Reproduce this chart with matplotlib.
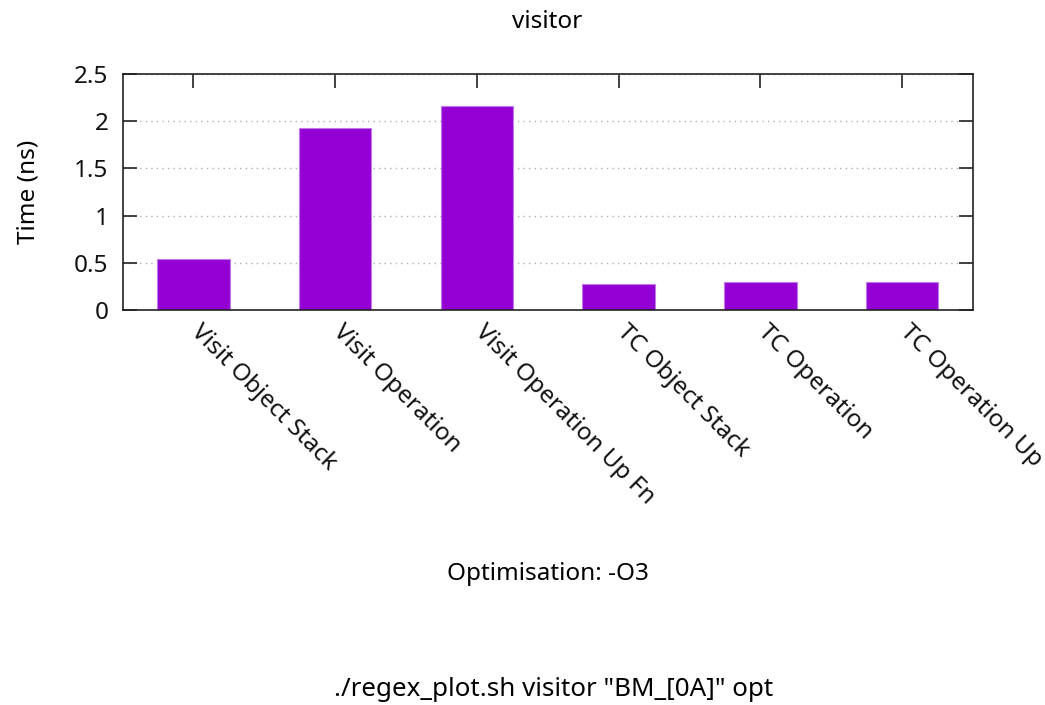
import matplotlib
matplotlib.use("Agg")
import matplotlib.pyplot as plt
from matplotlib.transforms import ScaledTranslation

plt.rcParams['font.family'] = ['Noto Sans', 'DejaVu Sans']

# benchmark results (ns per call)
benchmarks = ["Visit Object Stack", "Visit Operation", "Visit Operation Up Fn",
              "TC Object Stack", "TC Operation", "TC Operation Up"]
times_ns = [0.537, 1.926, 2.159, 0.272, 0.293, 0.293]
y_ticks = [0, 0.5, 1, 1.5, 2, 2.5]
y_tick_labels = ["0", "0.5", "1", "1.5", "2", "2.5"]

FS = 17.5
W, H, DPI = 1045, 705, 100
fig = plt.figure(figsize=(W / DPI, H / DPI), dpi=DPI)
ax = fig.add_axes([122.5 / W, 1 - 310 / H, (973 - 122.5) / W, (310 - 74) / H])

x = list(range(len(benchmarks)))
ax.bar(x, times_ns, width=0.51, color="#9400D3", edgecolor="#c07ae6",
       linewidth=0.8, zorder=2)

ax.set_xlim(-0.5, len(benchmarks) - 0.5)
ax.set_ylim(0, 2.5)
ax.set_yticks(y_ticks)
ax.set_yticklabels(y_tick_labels, fontsize=FS)
ax.set_xticks(x)
ax.set_xticklabels([])

# rotated category labels hanging below each bar
shift = ScaledTranslation(10 / DPI, -10 / DPI, fig.dpi_scale_trans)
for xi, name in zip(x, benchmarks):
    ax.text(xi, 0, name, rotation=-45, ha="left", va="top",
            rotation_mode="anchor", fontsize=FS, color="#111111",
            transform=ax.get_xaxis_transform() + shift)

for side in ax.spines.values():
    side.set_linewidth(1.2)
    side.set_color("#222222")

ax.tick_params(axis="y", direction="in", length=10, width=1.2,
               left=True, right=True, pad=10, colors="#222222")
ax.tick_params(axis="x", direction="in", length=10, width=1.2,
               bottom=False, top=True, colors="#222222")
ax.tick_params(axis="both", labelcolor="#111111")

ax.grid(axis="y", linestyle=(0, (1, 3)), color="#b0b0b0", linewidth=1.0, zorder=0)
ax.set_axisbelow(True)

fig.text(547.5 / W, 1 - 22 / H, "visitor", ha="center", va="center", fontsize=FS)
fig.text(28 / W, 1 - 192 / H, "Time (ns)", ha="center", va="center",
         rotation=90, fontsize=FS)
fig.text(547.5 / W, 1 - 574 / H, "Optimisation: -O3", ha="center", va="center",
         fontsize=FS)
fig.text(554 / W, 1 - 690 / H, './regex_plot.sh visitor "BM_[0A]" opt',
         ha="center", va="center", fontsize=18.7)

fig.savefig("out.png", dpi=DPI, facecolor="white")
